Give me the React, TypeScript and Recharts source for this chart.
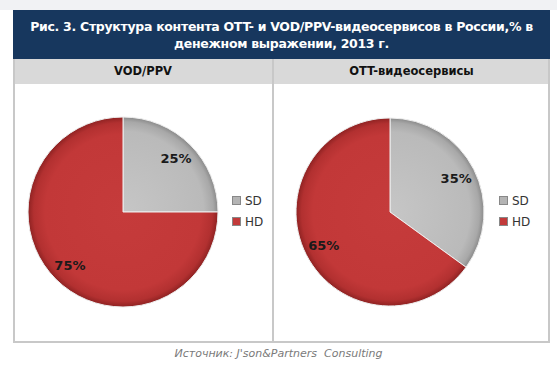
import React from "react";
import { PieChart, Pie, Cell, Legend } from "recharts";

const categories = ["SD", "HD"];
const vodValues = [25, 75];
const ottValues = [35, 65];
const panelTitles = ["VOD/PPV", "OTT-видеосервисы"];
const title1 = "Рис. 3. Структура контента OTT- и VOD/PPV-видеосервисов в России,% в";
const title2 = "денежном выражении, 2013 г.";
const source = "Источник: J'son&Partners  Consulting";

const FONT = "'DejaVu Sans', Verdana, sans-serif";
const RAD = Math.PI / 180;
const legendColors = ["#b4b4b4", "#c23a3a"];

type PanelProps = {
  id: string;
  values: number[];
  width: number;
  cx: number;
  r: number;
  legendX: number;
};

function PiePanel({ id, values, width, cx, r, legendX }: PanelProps) {
  const data = categories.map((name, i) => ({ name, value: values[i] }));
  const cy = 128;

  const renderLabel = (p: any) => {
    const rr = p.outerRadius * 0.79;
    const x = p.cx + rr * Math.cos(-p.midAngle * RAD);
    const y = p.cy + rr * Math.sin(-p.midAngle * RAD);
    return (
      <text x={x} y={y} textAnchor="middle" dominantBaseline="central" fill="#1a1a1a"
        fontSize={13} fontWeight="bold" fontFamily={FONT}>
        {`${p.value}%`}
      </text>
    );
  };

  const renderLegend = () => (
    <div style={{ fontFamily: FONT, fontSize: 12, color: "#333" }}>
      {categories.map((c, i) => (
        <div key={c} style={{ display: "flex", alignItems: "center", height: 21 }}>
          <span style={{ width: 7, height: 7, background: legendColors[i], border: "1px solid #888", marginRight: 4 }} />
          <span>{c}</span>
        </div>
      ))}
    </div>
  );

  return (
    <PieChart width={width} height={258} margin={{ top: 0, right: 0, bottom: 0, left: 0 }}>
      <defs>
        <radialGradient id={`${id}-sd`} cx={cx} cy={cy} r={r} gradientUnits="userSpaceOnUse">
          <stop offset="0%" stopColor="#c6c6c6" />
          <stop offset="85%" stopColor="#bababa" />
          <stop offset="95%" stopColor="#a8a8a8" />
          <stop offset="100%" stopColor="#8a8a8a" />
        </radialGradient>
        <radialGradient id={`${id}-hd`} cx={cx} cy={cy} r={r} gradientUnits="userSpaceOnUse">
          <stop offset="0%" stopColor="#c53b3b" />
          <stop offset="82%" stopColor="#c23838" />
          <stop offset="94%" stopColor="#b23030" />
          <stop offset="100%" stopColor="#8e2222" />
        </radialGradient>
      </defs>
      <Pie
        data={data}
        dataKey="value"
        nameKey="name"
        cx={cx}
        cy={cy}
        outerRadius={r}
        startAngle={90}
        endAngle={-270}
        stroke="#eeeeee"
        strokeWidth={1}
        label={renderLabel}
        labelLine={false}
        isAnimationActive={false}
      >
        <Cell fill={`url(#${id}-sd)`} />
        <Cell fill={`url(#${id}-hd)`} />
      </Pie>
      <Legend
        content={renderLegend}
        wrapperStyle={{ left: legendX, top: 106, width: 40 }}
      />
    </PieChart>
  );
}

export default function App() {
  const border = "2px solid #c8c8c8";
  return (
    <div style={{ position: "absolute", left: 0, top: 0, width: 557, height: 371, background: "#fff", overflow: "hidden" }}>
      <div style={{ position: "absolute", left: 0, top: 0, width: 557, height: 10, background: "#f1f2f4" }} />
      <div style={{
        position: "absolute", left: 13, top: 10, width: 537, height: 49, background: "#17375e",
        color: "#fff", fontFamily: FONT, fontWeight: "bold", fontSize: 12.5, textAlign: "center", lineHeight: "17px",
        paddingTop: 8, boxSizing: "border-box", letterSpacing: -0.3,
      }}>
        <div>{title1}</div>
        <div>{title2}</div>
      </div>
      <div style={{ position: "absolute", left: 13, top: 59, width: 537, height: 25, background: "#d9d9d9", borderLeft: border, borderRight: border, boxSizing: "border-box" }} />
      {panelTitles.map((t, i) => (
        <div key={t} style={{
          position: "absolute", left: i === 0 ? 13 : 273, top: 59, width: i === 0 ? 260 : 277, height: 25,
          lineHeight: "25px", textAlign: "center", fontFamily: FONT, fontWeight: "bold", fontSize: 11.5, color: "#111",
        }}>{t}</div>
      ))}
      <div style={{ position: "absolute", left: 13, top: 84, width: 537, height: 259, borderLeft: border, borderRight: border, borderBottom: border, boxSizing: "border-box" }} />
      <div style={{ position: "absolute", left: 272, top: 59, width: 2, height: 284, background: "#c8c8c8" }} />
      <div style={{ position: "absolute", left: 13, top: 84 }}>
        <PiePanel id="vod" values={vodValues} width={259} cx={110} r={95} legendX={219} />
      </div>
      <div style={{ position: "absolute", left: 274, top: 84 }}>
        <PiePanel id="ott" values={ottValues} width={275} cx={116} r={94} legendX={225} />
      </div>
      <div style={{
        position: "absolute", left: 0, top: 347, width: 557, textAlign: "center", fontFamily: FONT,
        fontStyle: "italic", fontSize: 11, color: "#7a7a7a", whiteSpace: "pre",
      }}>{source}</div>
    </div>
  );
}
